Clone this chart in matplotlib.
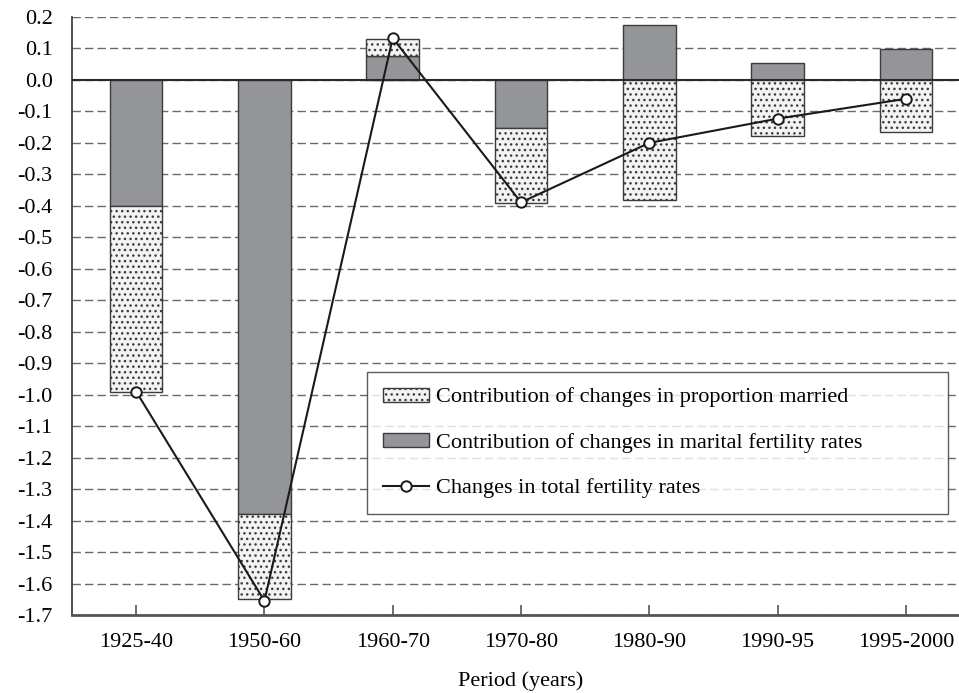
import numpy as np
import matplotlib
matplotlib.use('Agg')
import matplotlib.pyplot as plt
from matplotlib.patches import Patch
from matplotlib.lines import Line2D

periods = ['1925-40', '1950-60', '1960-70', '1970-80', '1980-90', '1990-95', '1995-2000']
marital = [-0.40, -1.38, 0.076, -0.152, 0.173, 0.053, 0.097]
married = [-0.59, -0.27, 0.055, -0.238, -0.382, -0.177, -0.165]
total_change = [-0.99, -1.655, 0.133, -0.389, -0.20, -0.123, -0.06]

plt.rcParams['font.family'] = ['Liberation Serif', 'DejaVu Serif']
plt.rcParams['hatch.linewidth'] = 1.0

fig = plt.figure(figsize=(9.59, 6.93), dpi=100)
ax = fig.add_axes([72 / 959, 78 / 693, 898 / 959, 598 / 693])

x = np.arange(len(periods))
marital = np.array(marital)
married = np.array(married)
# stack married on top of marital only when both have the same sign
same_sign = np.sign(marital) == np.sign(married)
married_bottom = np.where(same_sign, marital, 0.0)

w = 0.41
edge = '#3c3c3c'
ax.bar(x, marital, w, color='#939598', edgecolor=edge, linewidth=1.0, zorder=3)
ax.bar(x, married, w, bottom=married_bottom, color='#f3f3f3', edgecolor=edge,
       linewidth=1.0, hatch='...', zorder=3)

ax.plot(x, total_change, color='#1a1a1a', lw=1.5, marker='o', markersize=7.5,
        markerfacecolor='white', markeredgecolor='#1a1a1a', markeredgewidth=1.4,
        zorder=5)

ax.axhline(0, color='#2a2a2a', lw=1.5, zorder=4)

ax.set_ylim(-1.7, 0.2)
ax.set_xlim(-0.5, 6.5)
yt = np.round(np.arange(-1.7, 0.21, 0.1), 1)
ax.set_yticks(yt)
ax.set_yticklabels([f'{v:.1f}' if abs(v) > 1e-9 else '0.0' for v in yt])
ax.yaxis.grid(True, linestyle=(0, (6, 3)), color='#6a6a6a', lw=1.0, zorder=0)
ax.set_axisbelow(True)

ax.set_xticks(x)
ax.set_xticklabels(periods)
ax.tick_params(axis='x', direction='in', length=7, width=1.2, color='#555555',
               labelsize=16, pad=13)
ax.tick_params(axis='y', direction='in', length=0, labelsize=16, pad=14)
ax.set_xlabel('Period (years)', fontsize=16, labelpad=14)

for side in ['top', 'right']:
    ax.spines[side].set_visible(False)
ax.spines['left'].set_color('#333333')
ax.spines['left'].set_linewidth(1.2)
ax.spines['bottom'].set_color('#555555')
ax.spines['bottom'].set_linewidth(2.0)

handles = [
    Patch(facecolor='#f3f3f3', edgecolor=edge, hatch='...', linewidth=1.0),
    Patch(facecolor='#939598', edgecolor=edge, linewidth=1.0),
    Line2D([], [], color='#1a1a1a', lw=1.5, marker='o', markersize=7.5,
           markerfacecolor='white', markeredgecolor='#1a1a1a', markeredgewidth=1.4),
]
labels = ['Contribution of changes in proportion married',
          'Contribution of changes in marital fertility rates',
          'Changes in total fertility rates']
leg = ax.legend(handles, labels, loc='upper left',
                bbox_to_anchor=(0.3285, 0.169, 0.647, 0.2374), mode='expand',
                borderaxespad=0, fontsize=16, frameon=True, fancybox=False,
                handlelength=2.1, handleheight=0.58, handletextpad=0.3,
                labelspacing=1.15, borderpad=0.7)
leg.get_frame().set_edgecolor('#333333')
leg.get_frame().set_linewidth(1.0)

fig.savefig('out.png', dpi=100)
